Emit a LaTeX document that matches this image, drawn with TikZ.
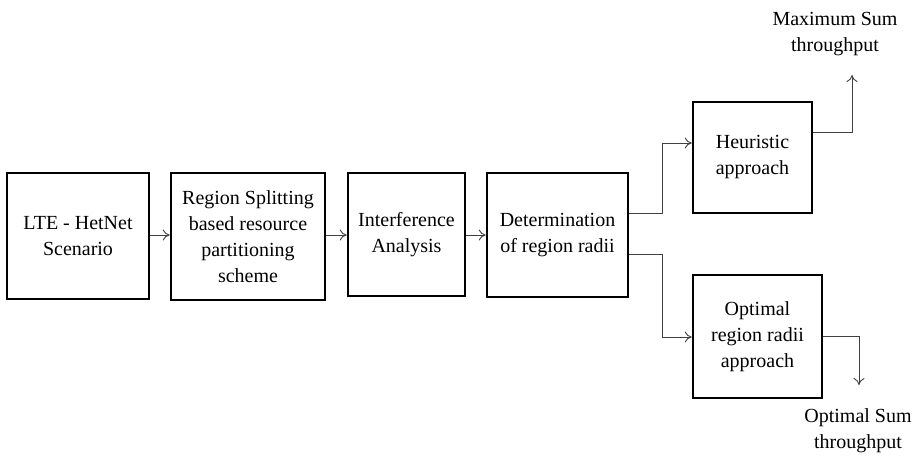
\documentclass[tikz,border=0pt]{standalone}
\usepackage{fontspec}
\setmainfont{Liberation Serif}
\usetikzlibrary{arrows.meta}
\begin{document}
\begin{tikzpicture}[x=1pt,y=-1pt,
  box/.style={draw=black,line width=2.6pt,inner sep=0pt,align=center,
    font=\fontsize{20}{26}\selectfont},
  lbl/.style={inner sep=0pt,align=center,font=\fontsize{20}{26}\selectfont},
  arr/.style={draw=black!75,line width=0.9pt,-{To[length=7pt,width=11pt]}}]
\useasboundingbox (0,0) rectangle (917,456);
\node[box,minimum width=142pt,minimum height=126pt] (b1) at (78,236) {LTE - HetNet\\Scenario};
\node[box,minimum width=154pt,minimum height=127pt] (b2) at (248,236.5) {Region Splitting\\based resource\\partitioning\\scheme};
\node[box,minimum width=117pt,minimum height=123pt] (b3) at (406.5,234.5) {Interference\\Analysis};
\node[box,minimum width=141pt,minimum height=124pt] (b4) at (557.5,235) {Determination\\of region radii};
\node[box,minimum width=119pt,minimum height=111pt] (b5) at (752.5,157.5) {Heuristic\\approach};
\node[box,minimum width=129pt,minimum height=123pt] (b6) at (757.5,336.5) {Optimal\\region radii\\approach};
\node[lbl] (m1) at (835,34) {Maximum Sum\\throughput};
\node[lbl] (m2) at (858,431) {Optimal Sum\\throughput};
\coordinate (r1) at (0,235);
\draw[arr] (b1.east |- r1) -- (b2.west |- r1);
\draw[arr] (b2.east |- r1) -- (b3.west |- r1);
\draw[arr] (b3.east |- r1) -- (b4.west |- r1);
\coordinate (j1) at (662,213);
\coordinate (j2) at (662,143);
\draw[arr] (b4.east |- j1) -- (j1) -- (j2) -- (b5.west |- j2);
\coordinate (j3) at (662,254);
\coordinate (j4) at (662,337);
\draw[arr] (b4.east |- j3) -- (j3) -- (j4) -- (b6.west |- j4);
\coordinate (k1) at (852,132);
\coordinate (k2) at (852,75);
\draw[arr] (b5.east |- k1) -- (k1) -- (k2);
\coordinate (k3) at (859,336);
\coordinate (k4) at (859,385);
\draw[arr] (b6.east |- k3) -- (k3) -- (k4);
\end{tikzpicture}
\end{document}
